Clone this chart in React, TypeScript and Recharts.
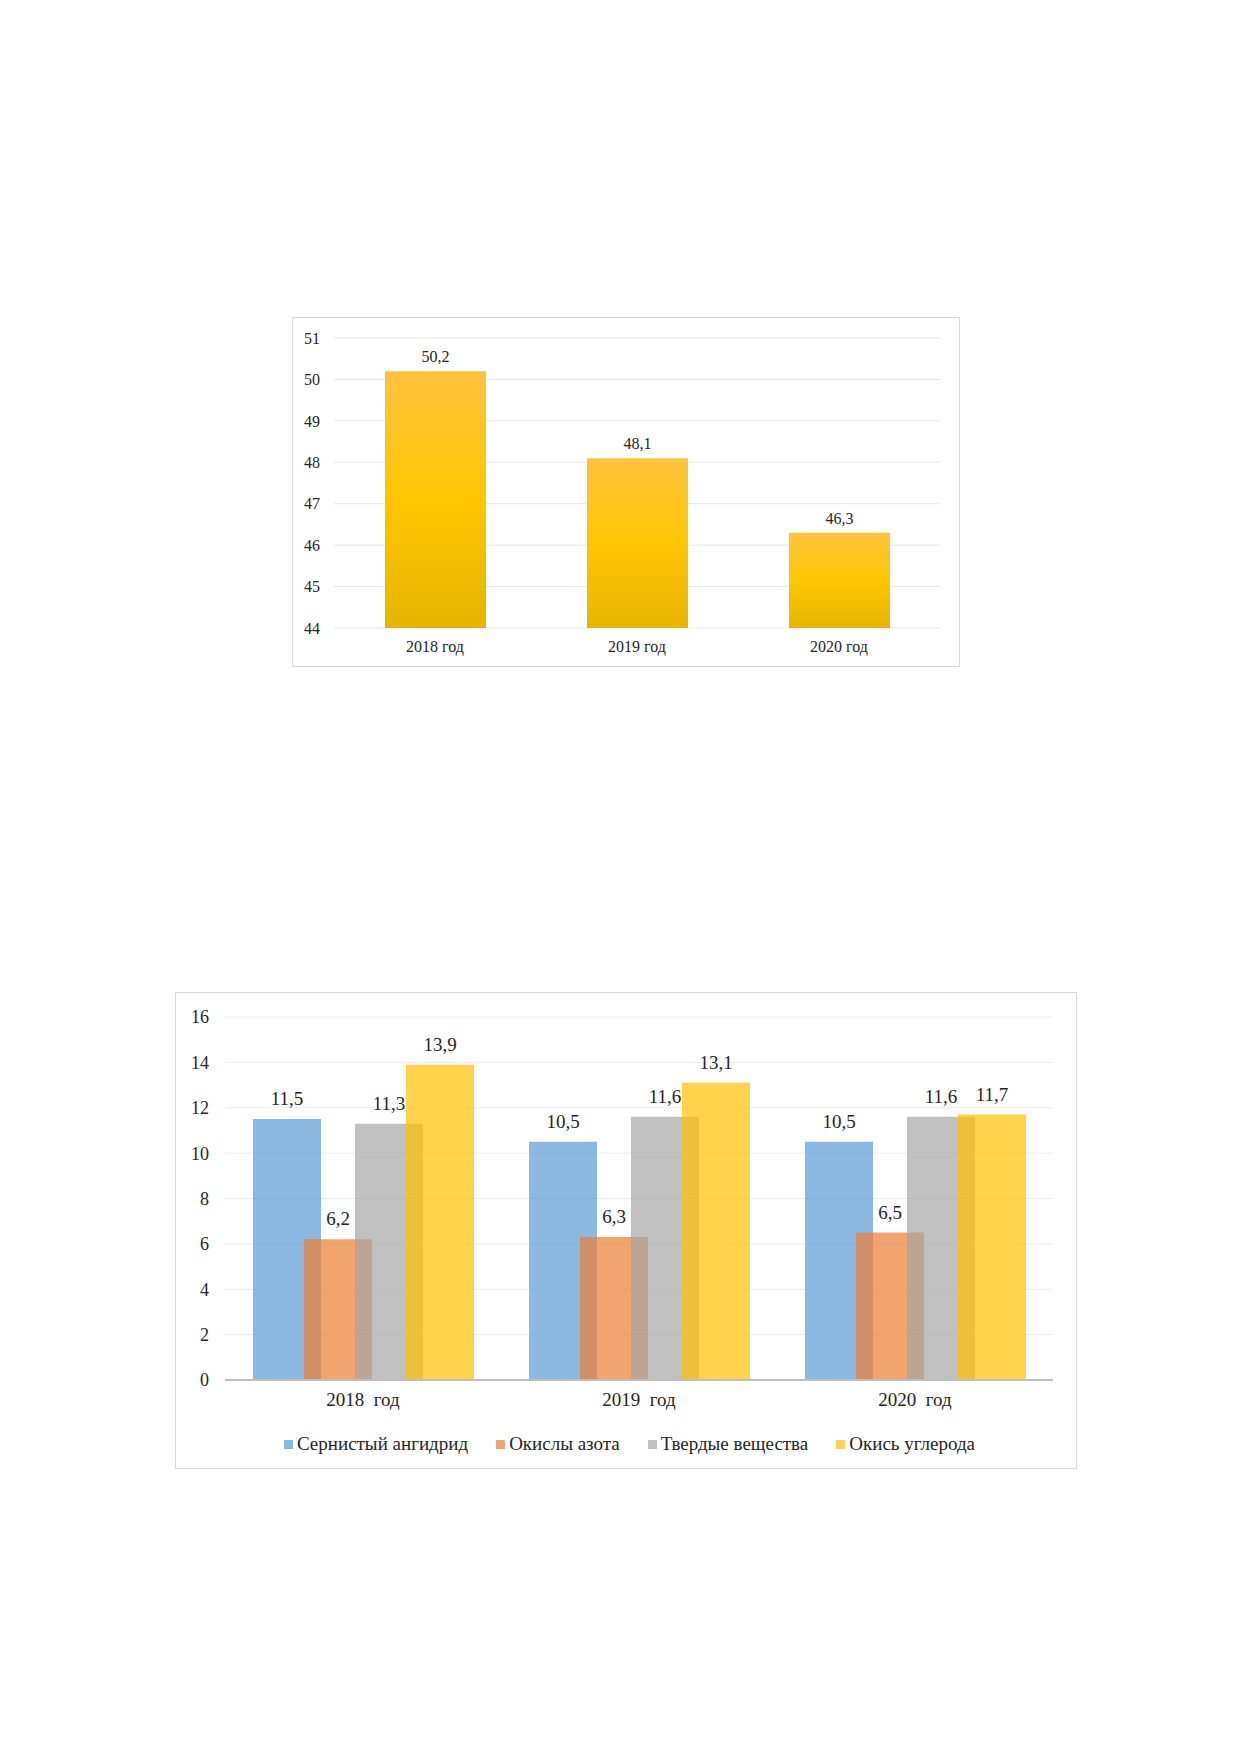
import { BarChart, Bar, XAxis, YAxis, CartesianGrid, LabelList, Legend } from "recharts";

const FONT = "'Liberation Serif', 'Times New Roman', serif";
const TEXT = "#262626";

// first chart: total emissions
const YEARS = ["2018 год", "2019 год", "2020 год"];
const TOTAL = [50.2, 48.1, 46.3];
const TOTAL_TICKS = [44, 45, 46, 47, 48, 49, 50, 51];

// second chart: by pollutant
const YEARS_2 = ["2018\u00a0 год", "2019\u00a0 год", "2020\u00a0 год"];
const SO2 = [11.5, 10.5, 10.5];
const NOX = [6.2, 6.3, 6.5];
const SOLIDS = [11.3, 11.6, 11.6];
const CO = [13.9, 13.1, 11.7];
const POLLUTANT_TICKS = [0, 2, 4, 6, 8, 10, 12, 14, 16];

const SERIES = [
  { key: "so2", name: "Сернистый ангидрид", color: "#5B9BD5", values: SO2 },
  { key: "nox", name: "Окислы азота", color: "#ED7D31", values: NOX },
  { key: "solids", name: "Твердые вещества", color: "#A5A5A5", values: SOLIDS },
  { key: "co", name: "Окись углерода", color: "#FFC000", values: CO },
];

const totalData = YEARS.map((year, i) => ({ year, value: TOTAL[i] }));
const pollutantData = YEARS_2.map((year, i) => {
  const row: Record<string, string | number> = { year };
  SERIES.forEach((s) => (row[s.key] = s.values[i]));
  return row;
});

const comma = (v: any) => String(v).replace(".", ",");

const PollutantLegend = () => (
  <div
    style={{
      height: 48,
      paddingLeft: 30,
      display: "flex",
      alignItems: "center",
      justifyContent: "center",
      gap: 28,
      fontFamily: FONT,
      fontSize: 19,
      color: TEXT,
    }}
  >
    {SERIES.map((s) => (
      <span key={s.key} style={{ display: "flex", alignItems: "center" }}>
        <span
          style={{ width: 9, height: 9, background: s.color, opacity: 0.7, marginRight: 4, display: "inline-block" }}
        />
        {s.name}
      </span>
    ))}
  </div>
);

const boxStyle = {
  position: "absolute" as const,
  border: "1px solid #d9d9d9",
  background: "#fff",
};

export default function App() {
  return (
    <div style={{ position: "relative", width: 1224, height: 1738, background: "#fff" }}>
      {/* Chart 1 */}
      <div style={{ ...boxStyle, left: 284, top: 309, width: 666, height: 348 }}>
        <BarChart
          width={666}
          height={348}
          data={totalData}
          margin={{ top: 20, right: 19, bottom: 0, left: 0 }}
        >
          <defs>
            <linearGradient id="goldFill" x1="0" y1="0" x2="0" y2="1">
              <stop offset="0%" stopColor="#ffc33f" />
              <stop offset="50%" stopColor="#ffc600" />
              <stop offset="100%" stopColor="#e5b600" />
            </linearGradient>
          </defs>
          <CartesianGrid vertical={false} stroke="#e7e7e7" />
          <XAxis
            dataKey="year"
            axisLine={false}
            tickLine={false}
            tickSize={0}
            tickMargin={13}
            height={38}
            tick={{ fill: TEXT, fontSize: 16, fontFamily: FONT }}
          />
          <YAxis
            domain={[44, 51]}
            ticks={TOTAL_TICKS}
            axisLine={false}
            tickLine={false}
            tickSize={0}
            tickMargin={14}
            width={41}
            tick={{ fill: TEXT, fontSize: 16, fontFamily: FONT }}
          />
          <Bar dataKey="value" fill="url(#goldFill)" barSize={101} isAnimationActive={false}>
            <LabelList
              dataKey="value"
              position="top"
              offset={9}
              formatter={comma}
              style={{ fill: TEXT, fontSize: 16, fontFamily: FONT }}
            />
          </Bar>
        </BarChart>
      </div>

      {/* Chart 2 */}
      <div style={{ ...boxStyle, left: 167, top: 984, width: 900, height: 475 }}>
        <BarChart
          width={900}
          height={475}
          data={pollutantData}
          barGap={-17}
          margin={{ top: 24, right: 23, bottom: 0, left: 0 }}
        >
          <CartesianGrid vertical={false} stroke="#ececec" />
          <XAxis
            dataKey="year"
            axisLine={{ stroke: "#bfbfbf", strokeWidth: 2 }}
            tickLine={false}
            tickSize={0}
            tickMargin={13}
            height={40}
            tick={{ fill: TEXT, fontSize: 19, fontFamily: FONT }}
          />
          <YAxis
            domain={[0, 16]}
            ticks={POLLUTANT_TICKS}
            axisLine={false}
            tickLine={false}
            tickSize={0}
            tickMargin={16}
            width={49}
            tick={{ fill: TEXT, fontSize: 18, fontFamily: FONT }}
          />
          <Legend verticalAlign="bottom" content={<PollutantLegend />} wrapperStyle={{ height: 48 }} />
          {SERIES.map((s) => (
            <Bar
              key={s.key}
              dataKey={s.key}
              name={s.name}
              fill={s.color}
              fillOpacity={0.7}
              barSize={68}
              isAnimationActive={false}
            >
              <LabelList
                dataKey={s.key}
                position="top"
                offset={14}
                formatter={comma}
                style={{ fill: TEXT, fontSize: 19, fontFamily: FONT }}
              />
            </Bar>
          ))}
        </BarChart>
      </div>
    </div>
  );
}
